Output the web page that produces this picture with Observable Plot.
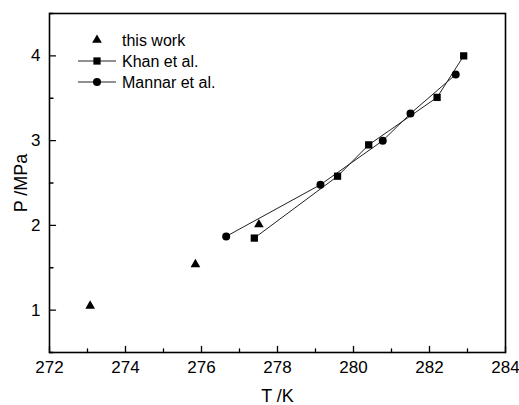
<!DOCTYPE html>
<html>
<head>
<meta charset="utf-8">
<script src="https://cdn.jsdelivr.net/npm/d3@7"></script>
<script src="https://cdn.jsdelivr.net/npm/@observablehq/plot@0.6"></script>
<style>
  body { margin: 0; background: #fff; }
  #chart { position: relative; width: 519px; height: 405px; }
  svg { font-family: "Liberation Sans", Arial, sans-serif; }
</style>
</head>
<body>
<div id="chart"></div>
<script>
// Data
const thisWorkT = [273.07, 275.84, 277.51];
const thisWorkP = [1.05, 1.54, 2.01];
const khanT = [277.39, 279.58, 280.40, 282.20, 282.90];
const khanP = [1.85, 2.58, 2.95, 3.51, 4.00];
const mannarT = [276.65, 279.13, 280.77, 281.50, 282.69];
const mannarP = [1.87, 2.48, 3.00, 3.32, 3.78];

const seriesNames = ["this work", "Khan et al.", "Mannar et al."];
const xMajor = [272, 274, 276, 278, 280, 282, 284];
const xMinor = [273, 275, 277, 279, 281, 283];
const yMajor = [1, 2, 3, 4];
const yMinor = [0.5, 1.5, 2.5, 3.5, 4.5];
const xDomain = [272, 284];
const yDomain = [0.5, 4.5];

const thisWork = thisWorkT.map((t, i) => ({T: t, P: thisWorkP[i]}));
const khan = khanT.map((t, i) => ({T: t, P: khanP[i]}));
const mannar = mannarT.map((t, i) => ({T: t, P: mannarP[i]}));

const upTick = {draw(ctx, l) { ctx.moveTo(0, 0); ctx.lineTo(0, -l); }};

const plot = Plot.plot({
  width: 519,
  height: 405,
  marginLeft: 49,
  marginRight: 14,
  marginTop: 13,
  marginBottom: 53,
  style: {fontFamily: "Liberation Sans, Arial, sans-serif", fontSize: "17px", color: "#000", background: "#fff"},
  x: {domain: xDomain},
  y: {domain: yDomain},
  marks: [
    Plot.axisX({ticks: xMajor, tickSize: 0, tickPadding: 8, tickFormat: d => String(d), label: null, fontSize: 17}),
    Plot.axisX({ticks: [], label: "T /K", labelAnchor: "center", labelOffset: 49, labelArrow: "none", fontSize: 18}),
    Plot.axisY({ticks: yMajor, tickSize: 0, tickPadding: 9, tickFormat: d => String(d), label: null, fontSize: 17}),
    Plot.axisY({ticks: [], label: "P /MPa", labelAnchor: "center", labelOffset: 35, labelArrow: "none", fontSize: 18}),
    // inward ticks
    Plot.vector(xMajor, {x: d => d, y: yDomain[0], length: 6, rotate: 0, anchor: "start", shape: upTick, stroke: "#000", strokeWidth: 1.3}),
    Plot.vector(xMinor, {x: d => d, y: yDomain[0], length: 3.5, rotate: 0, anchor: "start", shape: upTick, stroke: "#000", strokeWidth: 1.3}),
    Plot.vector(yMajor, {x: xDomain[0], y: d => d, length: 6, rotate: 90, anchor: "start", shape: upTick, stroke: "#000", strokeWidth: 1.3}),
    Plot.vector(yMinor, {x: xDomain[0], y: d => d, length: 3.5, rotate: 90, anchor: "start", shape: upTick, stroke: "#000", strokeWidth: 1.3}),
    Plot.line(khan, {x: "T", y: "P", stroke: "#222", strokeWidth: 1}),
    Plot.line(mannar, {x: "T", y: "P", stroke: "#222", strokeWidth: 1}),
    Plot.dot(khan, {x: "T", y: "P", symbol: "square", r: 4.1, fill: "#000", stroke: "none"}),
    Plot.dot(mannar, {x: "T", y: "P", symbol: "circle", r: 4, fill: "#000", stroke: "none"}),
    Plot.dot(thisWork, {x: "T", y: "P", symbol: "triangle", r: 3.6, fill: "#000", stroke: "none"}),
    Plot.frame({stroke: "#000", strokeWidth: 1.6})
  ]
});

document.getElementById("chart").appendChild(plot);

// Legend (inside the plot area, top-left)
const svg = d3.select(plot);
const lg = svg.append("g")
  .attr("font-size", 16)
  .attr("text-anchor", "start")
  .attr("fill", "#000")
  .attr("stroke", "none");
const symbols = [d3.symbolTriangle, d3.symbolSquare, d3.symbolCircle];
const sizes = [Math.PI * 3.6 * 3.6, Math.PI * 4.1 * 4.1, Math.PI * 4 * 4];
const hasLine = [false, true, true];
seriesNames.forEach((name, i) => {
  const y = 40 + i * 21;
  const g = lg.append("g").attr("transform", `translate(0,${y})`);
  if (hasLine[i]) g.append("line").attr("x1", 78).attr("x2", 116).attr("y1", 0).attr("y2", 0).attr("stroke", "#222").attr("stroke-width", 1);
  g.append("path").attr("d", d3.symbol(symbols[i], sizes[i])()).attr("transform", "translate(97,0)").attr("fill", "#000").attr("stroke", "none");
  g.append("text").attr("x", 122).attr("y", 0).attr("dy", "0.35em").attr("text-anchor", "start").text(name);
});
</script>
</body>
</html>
